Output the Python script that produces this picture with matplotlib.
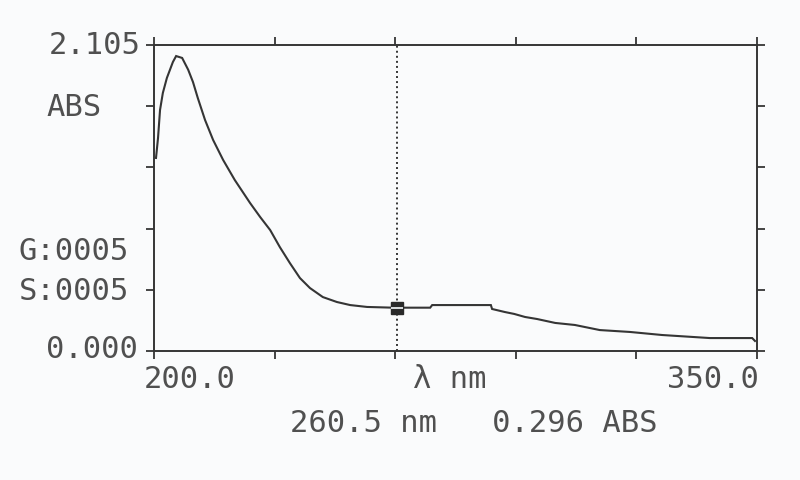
import matplotlib
matplotlib.use("Agg")
import matplotlib.pyplot as plt
import numpy as np

# Spectrum data
wavelength = [200.5, 201.0, 201.5, 202.2, 203.2, 204.7, 205.5, 207.0, 208.5, 209.7,
              210.9, 212.7, 214.7, 217.2, 220.1, 223.9, 226.4, 228.9, 231.3, 233.8,
              236.3, 238.8, 242.0, 245.5, 248.8, 253.0, 259.5, 268.7, 269.2, 283.8,
              284.1, 287.3, 289.6, 292.3, 295.3, 299.8, 304.7, 310.9, 318.4, 326.4,
              338.3, 348.8, 349.5]
absorbance = [1.328, 1.465, 1.658, 1.775, 1.878, 1.988, 2.029, 2.016, 1.935, 1.850,
              1.740, 1.589, 1.452, 1.314, 1.176, 1.018, 0.922, 0.832, 0.715, 0.605,
              0.502, 0.433, 0.371, 0.337, 0.316, 0.303, 0.298, 0.298, 0.316, 0.316,
              0.289, 0.268, 0.255, 0.234, 0.220, 0.193, 0.179, 0.144, 0.131, 0.110,
              0.089, 0.089, 0.069]

x_min, x_max = 200.0, 350.0
y_min, y_max = 0.000, 2.105
x_ticks = [200, 230, 260, 290, 320, 350]
y_ticks = [0.0, 0.421, 0.842, 1.263, 1.684, 2.105]
cursor_wl = 260.5
cursor_abs = 0.296

ink = "#353535"
txt = "#505050"
bg = "#fafbfc"
mono = "DejaVu Sans Mono"

W, H = 800, 480
fig = plt.figure(figsize=(8, 4.8), dpi=100, facecolor=bg)
L, R, T, B = 154, 757, 45, 351
ax = fig.add_axes([L / W, 1 - B / H, (R - L) / W, (B - T) / H])
ax.set_facecolor(bg)
ax.set_xlim(x_min, x_max)
ax.set_ylim(y_min, y_max)

ax.plot(wavelength, absorbance, color=ink, lw=1.5, solid_joinstyle="miter")
ax.axvline(cursor_wl, color=ink, lw=1.4, ls=(0, (1, 1.6)))
ax.plot([cursor_wl], [cursor_abs], marker="s", ms=8.5, color="#2a2a2a", mec="#2a2a2a")
ax.plot([cursor_wl], [cursor_abs], marker="_", ms=9, mew=1.3, color="#e8ecef")

for s in ax.spines.values():
    s.set_color(ink)
    s.set_linewidth(1.4)

ax.set_xticks(x_ticks)
ax.set_yticks(y_ticks)
ax.set_xticklabels([])
ax.set_yticklabels([])
ax.tick_params(axis="both", which="major", direction="out", length=6, width=1.3,
               color=ink, top=True, right=True, bottom=True, left=True,
               labelbottom=False, labelleft=False)

def ftext(px, py, s, ha="center", va="center"):
    fig.text(px / W, 1 - py / H, s, ha=ha, va=va, fontsize=22, family=mono, color=txt)

ftext(95, 45, "2.105")
ftext(74, 108, "ABS")
ftext(74, 251, "G:0005")
ftext(74, 292, "S:0005")
ftext(92, 350, "0.000")
ftext(190, 379, "200.0")
ftext(450, 380, "λ nm")
ftext(713, 379, "350.0")
ftext(474, 423, f"{cursor_wl:.1f} nm   {cursor_abs:.3f} ABS")

fig.savefig("out.png", dpi=100, facecolor=bg)
